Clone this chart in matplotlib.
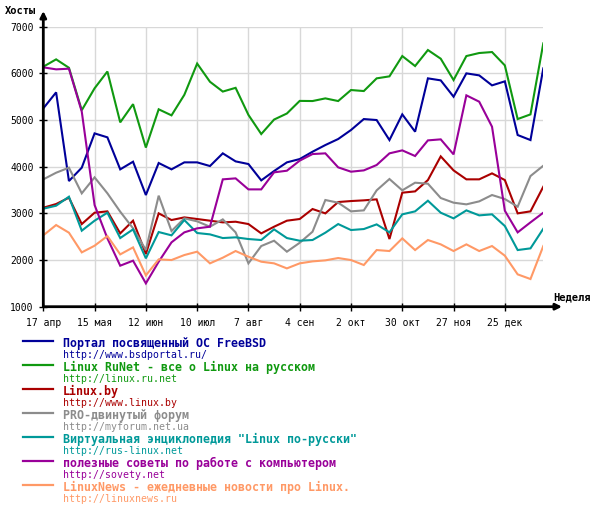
import matplotlib
matplotlib.use("Agg")
import matplotlib.pyplot as plt
from matplotlib.lines import Line2D

W, H = 594, 509
DPI = 100

weeks = list(range(40))
tick_weeks = [0, 4, 8, 12, 16, 20, 24, 28, 32, 36]
tick_labels = ["17 апр", "15 мая", "12 июн", "10 июл", "7 авг", "4 сен",
               "2 окт", "30 окт", "27 ноя", "25 дек"]
y_ticks = [1000, 2000, 3000, 4000, 5000, 6000, 7000]

freebsd = [5250, 5593, 3693, 3979, 4714, 4629, 3943, 4107, 3393, 4079,
           3943, 4093, 4093, 4014, 4286, 4114, 4057, 3707, 3907, 4093,
           4164, 4321, 4464, 4593, 4786, 5021, 5000, 4571, 5121, 4750,
           5893, 5850, 5500, 6000, 5957, 5743, 5829, 4679, 4571, 6107]
runet = [6143, 6300, 6120, 5210, 5680, 6040, 4950, 5340, 4410, 5230,
         5100, 5540, 6210, 5820, 5610, 5690, 5110, 4700, 5010, 5140,
         5410, 5407, 5464, 5407, 5643, 5621, 5893, 5936, 6371, 6157,
         6500, 6314, 5857, 6371, 6436, 6457, 6171, 5021, 5121, 6643]
linuxby = [3121, 3200, 3336, 2771, 3014, 3043, 2571, 2843, 2129, 3000,
           2857, 2914, 2879, 2843, 2807, 2821, 2771, 2571, 2714, 2843,
           2879, 3093, 3000, 3243, 3264, 3279, 3300, 2450, 3443, 3471,
           3714, 4221, 3921, 3729, 3729, 3857, 3714, 3000, 3043, 3571]
proforum = [3729, 3871, 3979, 3429, 3771, 3430, 3036, 2680, 2215, 3379,
            2621, 2893, 2829, 2714, 2871, 2593, 1929, 2300, 2414, 2179,
            2370, 2607, 3286, 3229, 3043, 3064, 3493, 3736, 3493, 3657,
            3636, 3329, 3229, 3193, 3257, 3393, 3307, 3143, 3800, 4021]
ruslinux = [3100, 3164, 3357, 2629, 2843, 3014, 2471, 2657, 2036, 2600,
            2529, 2857, 2579, 2550, 2471, 2486, 2450, 2429, 2657, 2471,
            2414, 2429, 2586, 2771, 2643, 2664, 2764, 2593, 2979, 3043,
            3271, 3014, 2893, 3064, 2957, 2979, 2729, 2214, 2250, 2671]
sovety = [6129, 6086, 6100, 5180, 3179, 2464, 1879, 1986, 1500, 1964,
          2379, 2593, 2679, 2714, 3729, 3750, 3514, 3514, 3879, 3914,
          4130, 4271, 4286, 3986, 3893, 3921, 4036, 4286, 4350, 4229,
          4564, 4586, 4264, 5529, 5393, 4857, 3057, 2593, 2807, 3014]
linuxnews = [2529, 2750, 2586, 2164, 2307, 2514, 2121, 2271, 1671, 2014,
             2000, 2107, 2179, 1929, 2050, 2193, 2071, 1964, 1929, 1821,
             1929, 1971, 1993, 2043, 2000, 1893, 2214, 2193, 2464, 2214,
             2429, 2336, 2193, 2336, 2193, 2300, 2093, 1693, 1593, 2300]

names = ["Портал посвященный ОС FreeBSD",
         "Linux RuNet - все о Linux на русском",
         "Linux.by",
         "PRO-двинутый форум",
         "Виртуальная энциклопедия \"Linux по-русски\"",
         "полезные советы по работе с компьютером",
         "LinuxNews - ежедневные новости про Linux."]
urls = ["http://www.bsdportal.ru/",
        "http://linux.ru.net",
        "http://www.linux.by",
        "http://myforum.net.ua",
        "http://rus-linux.net",
        "http://sovety.net",
        "http://linuxnews.ru"]
series = [freebsd, runet, linuxby, proforum, ruslinux, sovety, linuxnews]
colors = ["#000099", "#109910", "#aa0000", "#8c8c8c", "#009999", "#990099", "#ff9966"]

MONO = "DejaVu Sans Mono"

fig = plt.figure(figsize=(W / DPI, H / DPI), dpi=DPI)
fig.patch.set_facecolor("white")

left, right, top, bottom = 43.3, 543.3, 26.7, 306.7
ax = fig.add_axes([left / W, 1 - bottom / H, (right - left) / W, (bottom - top) / H])
ax.set_xlim(0, 39)
ax.set_ylim(1000, 7000)

for s, c in zip(series, colors):
    ax.plot(weeks, s, color=c, lw=1.5, solid_joinstyle="miter", zorder=3)

ax.set_xticks(tick_weeks)
ax.set_xticklabels(tick_labels, fontfamily=MONO, fontsize=7)
ax.set_yticks(y_ticks)
ax.set_yticklabels([str(v) for v in y_ticks], fontfamily=MONO, fontsize=7)
ax.tick_params(axis="both", direction="inout", length=6, width=1, color="black")
ax.tick_params(axis="x", pad=5)
ax.tick_params(axis="y", pad=4)
ax.grid(True, color="#d8d8d8", lw=1, zorder=0)
ax.set_axisbelow(True)
for sp in ax.spines.values():
    sp.set_visible(False)

# axes with arrows
ext_x = (562 - left) / (right - left)
ext_y = (bottom - 11) / (bottom - top)
ax.annotate("", xy=(ext_x, 0), xytext=(0, 0), xycoords="axes fraction",
            textcoords="axes fraction",
            arrowprops=dict(arrowstyle="-|>", lw=2, color="black",
                            mutation_scale=9, shrinkA=0, shrinkB=0),
            annotation_clip=False, zorder=5)
ax.annotate("", xy=(0, ext_y), xytext=(0, 0), xycoords="axes fraction",
            textcoords="axes fraction",
            arrowprops=dict(arrowstyle="-|>", lw=2, color="black",
                            mutation_scale=9, shrinkA=0, shrinkB=0),
            annotation_clip=False, zorder=5)

fig.text(5 / W, 1 - 11 / H, "Хосты", fontfamily=MONO, fontweight="bold",
         fontsize=7.5, ha="left", va="center")
fig.text(553 / W, 1 - 297 / H, "Неделя", fontfamily=MONO, fontweight="bold",
         fontsize=7.5, ha="left", va="center")

# legend
for i, (n, u, c) in enumerate(zip(names, urls, colors)):
    ly = 341.3 + 24 * i
    fig.add_artist(Line2D([23 / W, 53 / W], [1 - ly / H, 1 - ly / H],
                          color=c, lw=1.6, transform=fig.transFigure))
    fig.text(63 / W, 1 - (346.7 + 24 * i) / H, n, color=c, fontfamily=MONO,
             fontweight="bold", fontsize=8.4, ha="left", va="baseline")
    fig.text(63 / W, 1 - (358.3 + 24 * i) / H, u, color=c, fontfamily=MONO,
             fontsize=7.1, ha="left", va="baseline")

fig.savefig("out.png", dpi=DPI, facecolor="white")
